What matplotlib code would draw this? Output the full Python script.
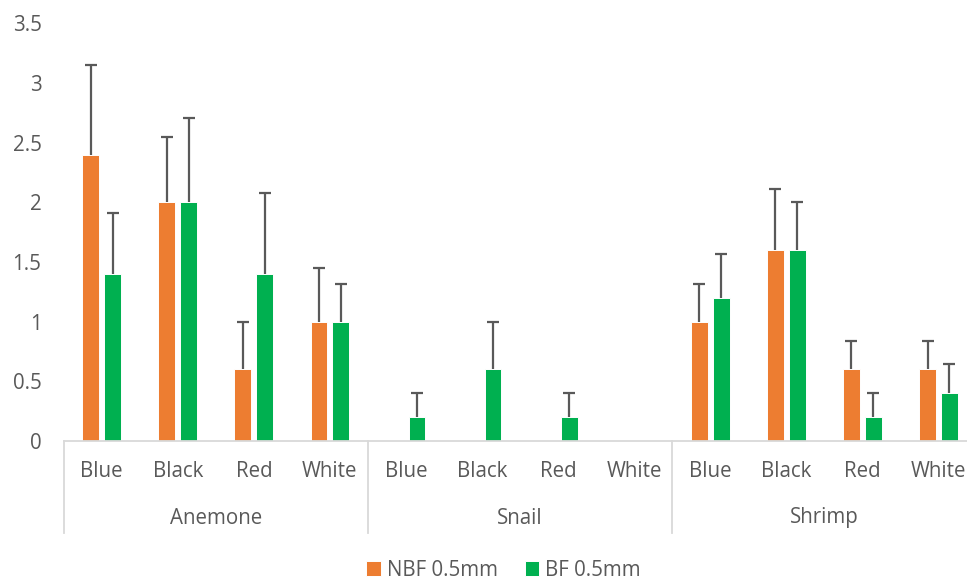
import numpy as np
import matplotlib
matplotlib.use("Agg")
from matplotlib import pyplot as plt
from matplotlib.transforms import blended_transform_factory

## DATA
groups = ["Anemone", "Snail", "Shrimp"]
shades = ["Blue", "Black", "Red", "White"]
nbf = [2.4, 2.0, 0.6, 1.0, 0, 0, 0, 0, 1.0, 1.6, 0.6, 0.6]
bf = [1.4, 2.0, 1.4, 1.0, 0.2, 0.6, 0.2, 0, 1.2, 1.6, 0.2, 0.4]
nbf_err = [0.75, 0.55, 0.40, 0.45, 0, 0, 0, 0, 0.32, 0.51, 0.24, 0.24]
bf_err = [0.51, 0.71, 0.68, 0.32, 0.2, 0.4, 0.2, 0, 0.37, 0.40, 0.2, 0.245]
series_names = ["NBF 0.5mm", "BF 0.5mm"]
yticks = [0, 0.5, 1, 1.5, 2, 2.5, 3, 3.5]

## STYLE
ORANGE = "#ED7D31"
GREEN = "#00B050"
TEXT = "#595959"
AXIS = "#D9D9D9"
ERR = "#595959"

plt.rcParams["font.family"] = ["Open Sans", "DejaVu Sans"]
plt.rcParams["font.size"] = 14.8

W, H = 967, 581
fig = plt.figure(figsize=(W / 100, H / 100), dpi=100)

# plot area in pixels (axis runs a bit past the right edge, as in the source)
x0, x1 = 63.7, 976.5
y_zero, y_top = 441, 23.4
ax = fig.add_axes([x0 / W, 1 - y_zero / H, (x1 - x0) / W, (y_zero - y_top) / H])

x = np.arange(len(nbf))
width = 0.222
off = 0.144

for vals, errs, col, sign, name in [(nbf, nbf_err, ORANGE, -1, series_names[0]),
                                    (bf, bf_err, GREEN, 1, series_names[1])]:
    xs = x + sign * off
    vals = np.array(vals)
    errs = np.array(errs)
    ax.bar(xs, vals, width, color=col, edgecolor="white",
           linewidth=0.7, label=name, zorder=2)
    # plus-only error bars: stem + top cap
    m = errs > 0
    ax.vlines(xs[m], vals[m], vals[m] + errs[m], color=ERR, lw=1.6, zorder=3)
    ax.plot(xs[m], vals[m] + errs[m], ls="none", marker="_", ms=8.8,
            mew=1.6, color=ERR, zorder=3)

ax.set_xlim(-0.5, len(nbf) - 0.5)
ax.set_ylim(0, 3.5)
ax.set_yticks(yticks)
ax.set_yticklabels([f"{t:g}" for t in yticks], color=TEXT)
ax.tick_params(axis="y", length=0, pad=16)
ax.set_xticks([])

for s in ["top", "right", "left"]:
    ax.spines[s].set_visible(False)
ax.spines["bottom"].set_color(AXIS)
ax.spines["bottom"].set_linewidth(1.3)

# multi-level category axis
tr = blended_transform_factory(ax.transData, ax.transAxes)
span = y_zero - y_top
for i in range(len(nbf)):
    ax.text(i, -30.5 / span, shades[i % 4], transform=tr, ha="center",
            va="center", color=TEXT)
for g, name in enumerate(groups):
    ax.text(g * 4 + 1.5, -77 / span, name, transform=tr, ha="center",
            va="center", color=TEXT)
for b in [-0.5, 3.5, 7.5, 11.5]:
    ax.plot([b, b], [0, -92 / span], transform=tr, color=AXIS, lw=1.3,
            clip_on=False)

fig.legend(loc="center", bbox_to_anchor=(503.5 / W, 1 - 570 / H), ncol=2,
           frameon=False, handlelength=0.7, handleheight=0.7,
           handletextpad=0.3, columnspacing=1.3, labelcolor=TEXT,
           borderaxespad=0)

fig.savefig("out.png", dpi=100)
